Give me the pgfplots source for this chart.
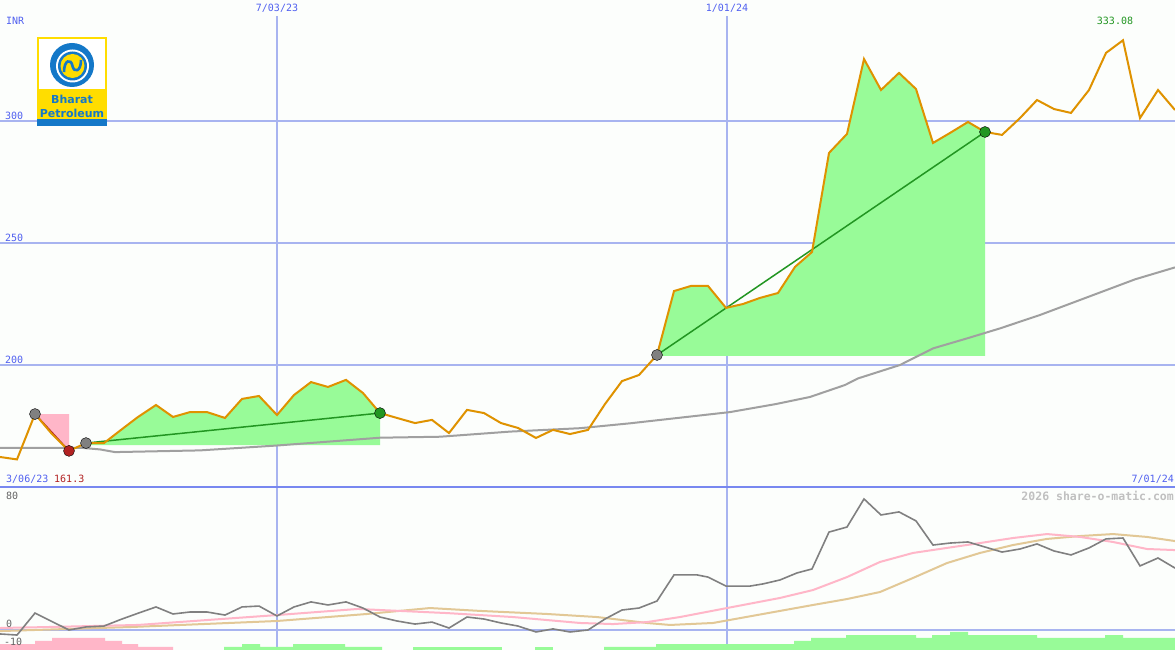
\documentclass[border=0pt]{standalone}
\usepackage{pgfplots}
\pgfplotsset{compat=1.18}
\usepackage{fontspec}
\setmainfont{DejaVu Sans}
\setsansfont{DejaVu Sans}
\setmonofont{DejaVu Sans Mono}
\definecolor{bgc}{RGB}{252,254,252}
\definecolor{pricec}{RGB}{223,146,0}
\definecolor{mac}{RGB}{160,160,160}
\definecolor{fillg}{RGB}{152,251,152}
\definecolor{fillp}{RGB}{255,182,200}
\definecolor{trendg}{RGB}{34,150,34}
\definecolor{redc}{RGB}{178,34,34}
\definecolor{markgray}{RGB}{128,128,128}
\definecolor{gridc}{RGB}{168,180,240}
\definecolor{sepc}{RGB}{120,136,240}
\definecolor{textblue}{RGB}{80,96,240}
\definecolor{lowgray}{RGB}{128,128,128}
\definecolor{lowpink}{RGB}{255,182,200}
\definecolor{lowtan}{RGB}{226,200,150}
\definecolor{wmk}{RGB}{192,192,192}
\definecolor{lbl}{RGB}{100,100,100}
\definecolor{logoblue}{RGB}{20,120,200}
\definecolor{logoyellow}{RGB}{255,221,0}
\begin{document}
\begin{tikzpicture}[x=1pt,y=1pt]
\path[use as bounding box] (0,0) rectangle (1175,650);
\fill[bgc] (0,0) rectangle (1175,650);
% ---------------- upper panel ----------------
\begin{axis}[at={(0pt,163pt)}, anchor=south west, scale only axis,
  width=1175pt, height=487pt, xmin=0, xmax=1175, ymin=150, ymax=349.59,
  axis lines=none, ticks=none]
\addplot[gridc, line width=2pt, forget plot] coordinates {(0,300) (1175,300)};
\addplot[gridc, line width=2pt, forget plot] coordinates {(0,250) (1175,250)};
\addplot[gridc, line width=2pt, forget plot] coordinates {(0,200) (1175,200)};
\addplot[gridc, line width=2pt, forget plot] coordinates {(277,343) (277,150)};
\addplot[gridc, line width=2pt, forget plot] coordinates {(727,343) (727,150)};
% pink area (decline)
\addplot[fill=fillp, draw=none] coordinates {(35,179.9) (69,179.9) (69,164.8) (52,171.7)} -- cycle;
% green areas
\addplot[fill=fillg, draw=none] coordinates {(86,167.2) (86,168.0) (104,168.0) (121,173.4) (138,178.7) (156,183.6) (173,178.7) (190,180.7) (207,180.7) (225,178.3) (242,186.1) (259,187.3) (277,179.5) (294,187.7) (311,193.0) (328,191.0) (346,193.9) (363,188.5) (380,180.3) (380,167.2)} -- cycle;
\addplot[fill=fillg, draw=none] coordinates {(657,203.7) (657,204.1) (674,230.3) (691,232.4) (708,232.4) (726,223.4) (743,225.0) (760,227.5) (778,229.5) (795,240.2) (812,246.3) (829,286.9) (847,294.7) (864,325.4) (881,312.7) (899,319.7) (916,313.1) (933,291.0) (950,295.1) (968,299.6) (985,295.5) (985,203.7)} -- cycle;
% moving average
\addplot[mac, line width=2pt] coordinates {(0,166.0) (83,166.0) (100,165.4) (115,164.3) (200,165.0) (277,167.0) (380,170.2) (440,170.6) (510,172.7) (580,174.1) (630,176.1) (680,178.4) (730,180.7) (776,184.0) (810,186.9) (845,191.8) (858,194.5) (900,200.0) (933,206.8) (967,210.9) (1000,215.0) (1040,220.5) (1135,235.1) (1175,240.0)};
% trend lines
\addplot[redc, line width=1.5pt] coordinates {(35,179.9) (69,164.8)};
\addplot[trendg, line width=1.5pt] coordinates {(86,168.0) (380,180.3)};
\addplot[trendg, line width=1.5pt] coordinates {(657,204.1) (985,295.5)};
% markers
\addplot[only marks, mark=*, mark size=5.5pt, mark options={fill=markgray, draw=none}] coordinates {(35,179.9) (86,168.0) (657,204.1)};
\addplot[only marks, mark=*, mark size=5.5pt, mark options={fill=redc, draw=none}] coordinates {(69,164.8)};
\addplot[only marks, mark=*, mark size=5.5pt, mark options={fill=trendg, draw=none}] coordinates {(380,180.3) (985,295.5)};
% price
\addplot[pricec, line width=2pt] coordinates {(0,162.3) (17,161.3) (35,179.9) (52,171.7) (69,164.8) (86,168.0) (104,168.0) (121,173.4) (138,178.7) (156,183.6) (173,178.7) (190,180.7) (207,180.7) (225,178.3) (242,186.1) (259,187.3) (277,179.5) (294,187.7) (311,193.0) (328,191.0) (346,193.9) (363,188.5) (380,180.3) (397,178.3) (415,176.2) (432,177.5) (449,172.1) (467,181.6) (484,180.3) (501,176.2) (518,174.2) (536,170.1) (553,173.4) (570,171.7) (588,173.4) (605,184.0) (622,193.4) (639,195.9) (657,204.1) (674,230.3) (691,232.4) (708,232.4) (726,223.4) (743,225.0) (760,227.5) (778,229.5) (795,240.2) (812,246.3) (829,286.9) (847,294.7) (864,325.4) (881,312.7) (899,319.7) (916,313.1) (933,291.0) (950,295.1) (968,299.6) (985,295.5) (1002,294.3) (1020,301.2) (1037,308.6) (1054,304.9) (1071,303.3) (1089,312.7) (1106,327.9) (1123,333.08) (1140,301.2) (1158,312.7) (1175,304.5)};
\end{axis}
% ---------------- lower panel ----------------
\begin{axis}[at={(0pt,0pt)}, anchor=south west, scale only axis,
  width=1175pt, height=163pt, xmin=0, xmax=1175, ymin=-11.11, ymax=79.44,
  axis lines=none, ticks=none]
\addplot[gridc, line width=2pt, forget plot] coordinates {(0,0) (1175,0)};
\addplot[gridc, line width=2pt, forget plot] coordinates {(277,-11.11) (277,79.44)};
\addplot[gridc, line width=2pt, forget plot] coordinates {(727,-11.11) (727,79.44)};
% histogram
\addplot[fill=fillp, draw=none] coordinates {(0,-11.2) (0,-7.78) (35,-7.78) (35,-6.11) (52,-6.11) (52,-4.44) (105,-4.44) (105,-6.11) (122,-6.11) (122,-7.78) (138,-7.78) (138,-9.44) (173,-9.44) (173,-11.2)} -- cycle;
\addplot[fill=fillg, draw=none] coordinates {(224,-11.2) (224,-9.44) (242,-9.44) (242,-7.78) (260,-7.78) (260,-9.44) (293,-9.44) (293,-7.78) (345,-7.78) (345,-9.44) (382,-9.44) (382,-11.2)} -- cycle;
\addplot[fill=fillg, draw=none] coordinates {(413,-11.2) (413,-9.44) (502,-9.44) (502,-11.2)} -- cycle;
\addplot[fill=fillg, draw=none] coordinates {(535,-11.2) (535,-9.44) (553,-9.44) (553,-11.2)} -- cycle;
\addplot[fill=fillg, draw=none] coordinates {(604,-11.2) (604,-9.44) (656,-9.44) (656,-7.78) (794,-7.78) (794,-6.11) (811,-6.11) (811,-4.44) (846,-4.44) (846,-2.78) (916,-2.78) (916,-4.44) (932,-4.44) (932,-2.78) (950,-2.78) (950,-1.11) (968,-1.11) (968,-2.78) (1037,-2.78) (1037,-4.44) (1105,-4.44) (1105,-2.78) (1123,-2.78) (1123,-4.44) (1175,-4.44) (1175,-11.2)} -- cycle;
% tan line
\addplot[lowtan, line width=2pt] coordinates {(0,-0.6) (133,1.7) (277,5.0) (367,8.9) (430,12.2) (480,10.6) (547,8.9) (597,7.2) (647,3.9) (670,2.8) (713,3.9) (780,10.6) (813,13.9) (847,17.2) (880,21.1) (913,28.9) (947,37.2) (980,42.8) (1013,47.2) (1047,50.6) (1080,52.2) (1113,53.3) (1147,51.7) (1175,49.4)};
% pink line
\addplot[lowpink, line width=2pt] coordinates {(0,1.1) (52,1.7) (138,2.8) (277,8.3) (358,11.7) (380,11.1) (447,9.4) (513,7.2) (580,3.9) (613,3.3) (647,4.4) (680,7.2) (727,12.2) (780,17.8) (813,22.2) (847,29.4) (880,37.8) (913,42.8) (947,45.6) (980,48.3) (1013,51.1) (1047,53.3) (1080,51.7) (1113,48.9) (1147,45.0) (1175,44.4)};
% gray oscillator
\addplot[lowgray, line width=1.6pt] coordinates {(0,-2.2) (17,-2.8) (35,9.4) (52,4.7) (69,0) (86,1.7) (104,2.2) (121,5.9) (138,9.3) (156,12.8) (173,8.9) (190,10.0) (207,10.0) (225,8.3) (242,12.8) (259,13.3) (277,7.8) (294,12.8) (311,15.6) (328,13.9) (346,15.6) (363,12.2) (380,7.2) (397,5.0) (415,3.3) (432,4.4) (449,1.1) (467,7.2) (484,6.1) (501,3.9) (518,2.2) (536,-1.1) (553,0.6) (570,-1.1) (588,0) (605,6.1) (622,11.1) (639,12.2) (657,16.1) (674,30.6) (697,30.6) (708,29.4) (726,24.4) (750,24.4) (763,25.6) (780,27.8) (797,31.7) (812,33.9) (829,54.4) (847,57.2) (864,72.8) (881,63.9) (899,65.6) (916,60.6) (933,47.2) (950,48.3) (968,48.9) (985,46.1) (1002,43.3) (1020,45.0) (1037,47.8) (1054,43.9) (1071,41.7) (1089,45.6) (1106,50.6) (1123,51.1) (1140,35.6) (1158,40.0) (1175,34.4)};
\end{axis}
% separator
\draw[sepc, line width=2pt] (0,163) -- (1175,163);
% ---------------- labels ----------------
\begin{scope}[every node/.style={inner sep=0pt, font=\ttfamily\fontsize{10}{10}\selectfont}]
\node[anchor=west, text=textblue] at (6,629) {INR};
\node[anchor=west, text=textblue] at (5,534) {300};
\node[anchor=west, text=textblue] at (5,412) {250};
\node[anchor=west, text=textblue] at (5,290) {200};
\node[text=textblue] at (277,642) {7/03/23};
\node[text=textblue] at (727,642) {1/01/24};
\node[text=trendg] at (1115,629) {333.08};
\node[anchor=west, text=textblue] at (6,171) {3/06/23};
\node[anchor=west, text=redc] at (54,171) {161.3};
\node[anchor=east, text=textblue] at (1174,171) {7/01/24};
\node[anchor=east, text=wmk, font=\ttfamily\bfseries\fontsize{11.5}{11.5}\selectfont] at (1174,154) {2026 share-o-matic.com};
\node[anchor=west, text=lbl] at (6,154) {80};
\node[anchor=west, text=lbl] at (6,26) {0};
\node[anchor=west, text=lbl] at (4,8) {-10};
\end{scope}
% ---------------- logo ----------------
\fill[logoyellow] (37,531) rectangle (107,613);
\fill[white] (39,561) rectangle (105,611);
\fill[logoblue] (37,524) rectangle (107,531);
\fill[logoblue] (72,585) circle (22);
\fill[white] (72.5,584) circle (16.5);
\fill[logoblue] (72.5,584) circle (14.5);
\fill[logoyellow] (72.5,584) circle (12);
\draw[logoblue, line width=2.6pt] (64,578) .. controls (64,590) and (71,592) .. (72.5,584) .. controls (74,577) and (81,578) .. (81,590);
\node[inner sep=0pt, text=logoblue, font=\sffamily\bfseries\fontsize{11}{11}\selectfont] at (72,551) {Bharat};
\node[inner sep=0pt, text=logoblue, font=\sffamily\bfseries\fontsize{11}{11}\selectfont] at (72,537) {Petroleum};
\end{tikzpicture}
\end{document}
